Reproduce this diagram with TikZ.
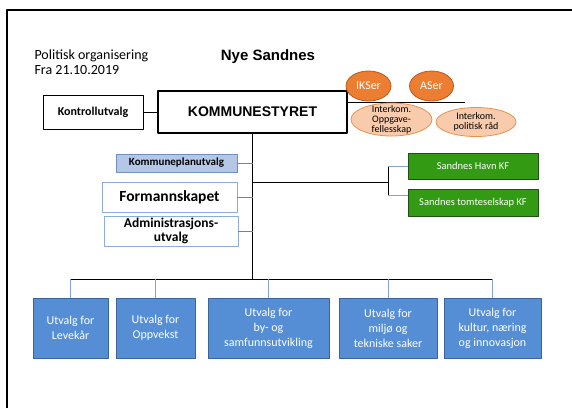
\documentclass[tikz,border=0pt]{standalone}
\usepackage{fontspec}
\setmainfont{Carlito}
\newfontfamily\arialfont{Liberation Sans}
\usetikzlibrary{shapes.geometric}
\definecolor{ikorange}{HTML}{ED7D31}
\definecolor{ikedge}{HTML}{B55A1E}
\definecolor{peach}{HTML}{F8CBAD}
\definecolor{peachedge}{HTML}{E9904F}
\definecolor{planblue}{HTML}{B4C7E7}
\definecolor{planedge}{HTML}{6F8FC2}
\definecolor{fsedge}{HTML}{8FAADC}
\definecolor{kfgreen}{HTML}{339A14}
\definecolor{kfedge}{HTML}{1F4F12}
\definecolor{utvblue}{HTML}{558ED5}
\definecolor{utvedge}{HTML}{3A64A0}
\definecolor{dropblue}{HTML}{7FA3D6}
\newcommand{\fs}[2]{\fontsize{#1}{#2}\selectfont}
\begin{document}
\begin{tikzpicture}[x=1pt, y=-1pt, line join=round,
  box/.style={draw, line width=0.8pt, inner sep=1pt, align=center},
  oval/.style={ellipse, draw, line width=0.8pt, align=center},
  utv/.style={box, fill=utvblue, draw=utvedge, text=white, minimum height=60pt, font=\fs{12}{15}},
  kfbox/.style={box, fill=kfgreen, draw=kfedge, text=white, minimum width=130pt, font=\fs{10.5}{12}},
  stub/.style={gray, line width=0.8pt}]
\useasboundingbox (0,0) rectangle (572,408);
\draw[line width=1.5pt] (7,408) -- (7,10) -- (572,10);
% title
\node[anchor=west, align=left, font=\fs{14}{15}] (info) at (31,62.5) {Politisk organisering\\Fra 21.10.2019};
\node[font=\arialfont\bfseries\fs{15}{15}] (name) at (268,57) {Nye Sandnes};
% kommunestyret and the boards next to it
\node[box, line width=1.5pt, minimum width=189pt, minimum height=42pt, font=\arialfont\bfseries\fs{14}{14}] (ks) at (252.5,112) {KOMMUNESTYRET};
\node[box, minimum width=100pt, minimum height=34pt, font=\bfseries\fs{12}{12}] (kontroll) at (93,112) {Kontrollutvalg};
\draw[line width=0.8pt] (kontroll) -- (ks);
\coordinate (ik) at (465,102);
\draw[line width=0.8pt] (ks.east |- ik) -- (ik);
\node[oval, fill=ikorange, draw=ikedge, text=white, minimum width=45pt, minimum height=30pt, inner sep=0pt, font=\fs{12}{12}] (ikser) at (368.5,86) {IKSer};
\node[oval, fill=ikorange, draw=ikedge, text=white, minimum width=44pt, minimum height=30pt, inner sep=0pt, font=\fs{12}{12}] (aser) at (431.5,86) {ASer};
\node[oval, fill=peach, draw=peachedge, minimum width=81pt, minimum height=33pt, inner xsep=6pt, inner ysep=-3pt, font=\fs{10}{10}] (oppg) at (391.5,119.5) {Interkom.\\Oppgave-\\fellesskap};
\node[oval, fill=peach, draw=peachedge, minimum width=80pt, minimum height=29pt, inner xsep=3pt, inner ysep=0pt, font=\fs{10}{10}] (polit) at (476,122) {Interkom.\\politisk råd};
% utvalg on the left
\node[box, fill=planblue, draw=planedge, minimum width=121pt, minimum height=18pt, font=\bfseries\fs{11}{11}] (kp) at (176.5,163) {Kommuneplanutvalg};
\node[box, draw=fsedge, minimum width=135pt, minimum height=30pt, font=\bfseries\fs{15.5}{15.5}] (fs) at (169.5,197) {Formannskapet};
\node[box, draw=fsedge, minimum width=134pt, minimum height=30pt, font=\bfseries\fs{13.5}{14.5}] (adm) at (171,231) {Administrasjons-\\utvalg};
\coordinate (bus) at (252,279);
\draw[line width=0.8pt] (ks.south) -- (ks.south |- bus);
\foreach \b in {kp,fs,adm} \draw[stub] (\b.east) -- (\b.east -| ks.south);
% kommunale foretak
\node[kfbox, minimum height=26pt] (havn) at (473,166) {Sandnes Havn KF};
\node[kfbox, minimum height=27pt] (tomt) at (473,202.5) {Sandnes tomteselskap KF};
\coordinate (tomtin) at ([yshift=7.5pt]tomt.west);
\coordinate (kf) at (388,182);
\draw[line width=0.8pt] (ks.south |- kf) -- (kf);
\draw[line width=0.8pt] (kf |- havn.west) -- (kf |- tomtin);
\draw[dropblue, line width=0.8pt] (kf |- havn.west) -- (havn.west);
\draw[dropblue, line width=0.8pt] (kf |- tomtin) -- (tomtin);
% utvalg at the bottom
\foreach \n/\cx/\w/\t in {u1/70.5/75/{Utvalg for\\Levekår}, u2/155.5/79/{Utvalg for\\Oppvekst},
  u3/268.5/121/{Utvalg for\\by- og\\samfunnsutvikling}, u4/388/98/{Utvalg for\\miljø og\\tekniske saker},
  u5/492.5/97/{Utvalg for\\kultur, næring\\og innovasjon}}
  \node[utv, minimum width=\w pt] (\n) at (\cx,328) {\t};
\draw[line width=0.8pt] (u1.north |- bus) -- (u5.north |- bus);
\foreach \i in {1,...,5} \draw[dropblue, line width=0.8pt] (u\i.north |- bus) -- (u\i.north);
\end{tikzpicture}
\end{document}
